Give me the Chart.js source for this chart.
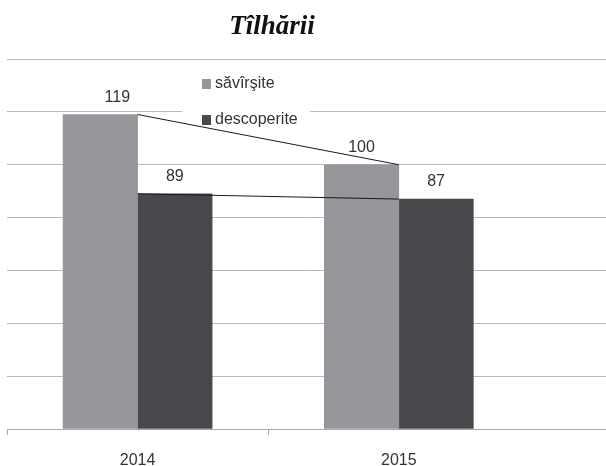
<!DOCTYPE html>
<html lang="ro">
  <head>
    <meta charset="UTF-8" />
    <title>Tîlhării</title>
    <script src="https://cdn.jsdelivr.net/npm/chart.js"></script>
    <style>
      html,
      body {
        margin: 0;
        padding: 0;
        width: 100%;
        height: 100%;
        overflow: hidden;
        background-color: #ffffff;
      }
      #wrap {
        position: relative;
        width: 606px;
        height: 466px;
      }
    </style>
  </head>
  <body>
    <div id="wrap"><canvas id="chart"></canvas></div>
    <script>
      const titleText = "Tîlhării";
      const years = [2014, 2015];
      const savarsite = [119, 100];
      const descoperite = [89, 87];
      const seriesNames = ["săvîrşite", "descoperite"];
      const yMin = 0;
      const yMax = 140;
      const yStep = 20;

      const textColor = "#333333";
      const labelFont = "16px 'Liberation Sans', Arial, sans-serif";

      // titlul, scris cu font serif aldin cursiv
      const titlePlugin = {
        id: "titleText",
        afterDraw(chart) {
          const c = chart.ctx;
          c.save();
          c.font = "italic bold 27px 'Liberation Serif', serif";
          c.fillStyle = "#111111";
          c.textAlign = "center";
          c.textBaseline = "alphabetic";
          c.fillText(titleText, 272, 34);
          c.restore();
        },
      };

      // legenda in interiorul zonei graficului, cu fundal alb
      const legendPlugin = {
        id: "insideLegend",
        beforeDatasetsDraw(chart) {
          const c = chart.ctx;
          const a = chart.chartArea;
          const x0 = a.left + 175;
          const y0 = a.top + 3;
          c.save();
          c.fillStyle = "#ffffff";
          c.fillRect(x0, y0, 128, 66);
          chart.data.datasets
            .filter((d) => d.type === "bar")
            .forEach((d, i) => {
              const y = y0 + 22 + i * 36;
              c.fillStyle = d.backgroundColor;
              c.fillRect(x0 + 20, y - 5, 9, 10);
              c.fillStyle = textColor;
              c.font = labelFont;
              c.textAlign = "left";
              c.textBaseline = "middle";
              c.fillText(d.label, x0 + 33, y);
            });
          c.restore();
        },
      };

      // valorile deasupra barelor (prima eticheta e mutata putin la dreapta, ca in original)
      const valuePlugin = {
        id: "barValues",
        afterDatasetsDraw(chart) {
          const c = chart.ctx;
          c.save();
          c.font = labelFont;
          c.fillStyle = textColor;
          c.textAlign = "center";
          c.textBaseline = "middle";
          let k = 0;
          chart.data.datasets.forEach((d, i) => {
            const meta = chart.getDatasetMeta(i);
            if (meta.type !== "bar") return;
            meta.data.forEach((el, j) => {
              const dx = k === 0 && j === 0 ? 17 : 0;
              c.fillText(String(d.data[j].y), el.x + dx, el.y - 17);
            });
            k++;
          });
          c.restore();
        },
      };

      const points = (values) => years.map((x, i) => ({ x: x, y: values[i] }));

      new Chart(document.getElementById("chart"), {
        data: {
          datasets: [
            {
              type: "line",
              data: points(savarsite),
              borderColor: "#1a1a1a",
              borderWidth: 1,
              pointRadius: 0,
              tension: 0,
              order: 1,
            },
            {
              type: "line",
              data: points(descoperite),
              borderColor: "#1a1a1a",
              borderWidth: 1,
              pointRadius: 0,
              tension: 0,
              order: 1,
            },
            {
              type: "bar",
              label: seriesNames[0],
              data: points(savarsite),
              backgroundColor: "#96979b",
              order: 2,
            },
            {
              type: "bar",
              label: seriesNames[1],
              data: points(descoperite),
              backgroundColor: "#48494c",
              order: 2,
            },
          ],
        },
        options: {
          responsive: true,
          maintainAspectRatio: false,
          animation: false,
          layout: {
            padding: { top: 59, left: 7, right: 0, bottom: 0 },
          },
          plugins: {
            legend: { display: false },
            tooltip: { enabled: false },
          },
          datasets: {
            bar: { barThickness: 74.5 },
          },
          scales: {
            x: {
              type: "linear",
              offset: false,
              min: years[0] - 0.5,
              max: years[0] - 0.5 + 599 / 261.2,
              afterBuildTicks: (scale) => {
                scale.ticks = years.flatMap((y) => [
                  { value: y - 0.5 },
                  { value: y },
                ]);
              },
              afterFit: (scale) => {
                scale.height = 37;
              },
              ticks: {
                autoSkip: false,
                maxRotation: 0,
                padding: 0,
                color: textColor,
                font: {
                  family: "'Liberation Sans', Arial, sans-serif",
                  size: 16,
                  lineHeight: 3.25,
                },
                callback: (v) => (Number.isInteger(v) ? String(v) : ""),
              },
              grid: {
                offset: false,
                drawOnChartArea: false,
                tickLength: 6,
                color: (ctx) =>
                  ctx.tick && Number.isInteger(ctx.tick.value)
                    ? "rgba(0,0,0,0)"
                    : "#a9a9a9",
              },
              border: { color: "#a9a9a9", width: 1 },
            },
            y: {
              min: yMin,
              max: yMax,
              afterFit: (scale) => {
                scale.width = 0;
              },
              ticks: { display: false, stepSize: yStep },
              grid: { color: "#b9b9b9", lineWidth: 1, drawTicks: false },
              border: { display: false },
            },
          },
        },
        plugins: [titlePlugin, legendPlugin, valuePlugin],
      });
    </script>
  </body>
</html>
